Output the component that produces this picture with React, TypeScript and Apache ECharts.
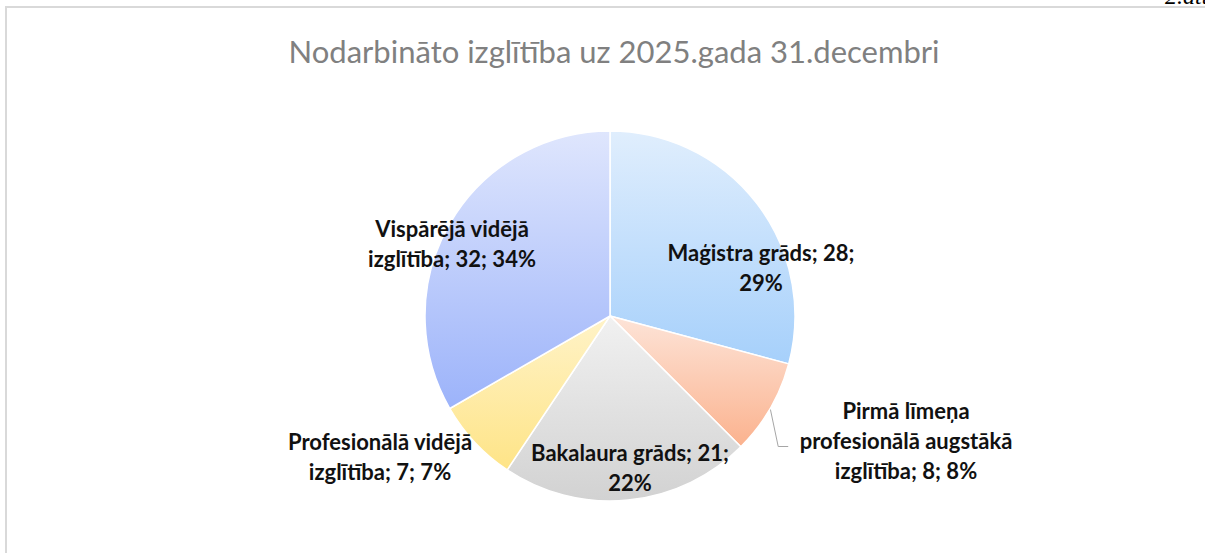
import React, { useEffect, useRef } from "react";
import * as echarts from "echarts";

const TITLE = "Nodarbināto izglītība uz 2025.gada 31.decembri";
const CORNER_TEXT = "2.attēls";
const CATEGORIES = [
  "Maģistra grāds",
  "Pirmā līmeņa profesionālā augstākā izglītība",
  "Bakalaura grāds",
  "Profesionālā vidējā izglītība",
  "Vispārējā vidējā izglītība",
];
const VALUES = [28, 8, 21, 7, 32];
const PERCENT_LABELS = ["29%", "8%", "22%", "7%", "34%"];

// layout / style (not data)
const LINE_BREAKS = [[3], [2, 4], [3], [2], [2]];
const LABEL_POS = [
  [761, 267],
  [906, 440],
  [630, 467],
  [380, 456],
  [452, 243],
];
const GRADIENTS = [
  ["#e0eefd", "#a6d0fb"],
  ["#fde4d8", "#fbb28e"],
  ["#f1f1f1", "#d2d2d2"],
  ["#fff3c8", "#fee487"],
  ["#dfe6fd", "#9cb3fa"],
];

function wrapLabel(i: number, text: string) {
  const words = text.split(" ");
  const breaks = LINE_BREAKS[i];
  const lines: string[] = [];
  let start = 0;
  for (const b of breaks) {
    lines.push(words.slice(start, b).join(" "));
    start = b;
  }
  lines.push(words.slice(start).join(" "));
  return lines.join("\n");
}

export default function App() {
  const ref = useRef<HTMLDivElement>(null);
  useEffect(() => {
    if (!ref.current) return;
    const chart = echarts.init(ref.current, null, { renderer: "svg" });
    const FONT = "Lato, 'Open Sans', sans-serif";
    const data = CATEGORIES.map((name, i) => ({
      name,
      value: VALUES[i],
      itemStyle: {
        color: new echarts.graphic.LinearGradient(0, 0, 0, 1, [
          { offset: 0, color: GRADIENTS[i][0] },
          { offset: 1, color: GRADIENTS[i][1] },
        ]),
      },
      label: i === 1 ? { position: "outside" } : { position: "inside" },
      labelLine: { show: i === 1 },
    }));
    chart.setOption({
      animation: false,
      backgroundColor: "#ffffff",
      title: {
        text: TITLE,
        left: 609,
        top: 30,
        textAlign: "center",
        textStyle: {
          fontFamily: FONT,
          fontSize: 31,
          fontWeight: "normal",
          color: "#808080",
        },
      },
      graphic: [
        {
          type: "rect",
          shape: { x: 6, y: 7, width: 1400, height: 700 },
          style: { fill: "none", stroke: "#d9d9d9", lineWidth: 2 },
          silent: true,
          z: -1,
        },
        {
          type: "text",
          right: -30,
          top: -16,
          style: {
            text: CORNER_TEXT,
            fontFamily: "'Liberation Serif', serif",
            fontStyle: "italic",
            fontSize: 24,
            fill: "#000000",
          },
        },
      ],
      series: [
        {
          type: "pie",
          center: [610, 316],
          radius: 185,
          startAngle: 90,
          clockwise: true,
          avoidLabelOverlap: false,
          itemStyle: { borderColor: "#ffffff", borderWidth: 1.5 },
          label: {
            show: true,
            fontFamily: FONT,
            fontSize: 22,
            fontWeight: "bold",
            color: "#111111",
            lineHeight: 30,
            align: "center",
            formatter: (p: any) =>
              wrapLabel(
                p.dataIndex,
                `${p.name}; ${p.value}; ${PERCENT_LABELS[p.dataIndex]}`
              ),
          },
          labelLine: {
            lineStyle: { color: "#a6a6a6", width: 1 },
            length: 10,
            length2: 10,
          },
          labelLayout: (params: any) => {
            const i = params.dataIndex;
            const out: any = {
              x: LABEL_POS[i][0],
              y: LABEL_POS[i][1],
              align: "center",
              verticalAlign: "middle",
            };
            if (params.labelLinePoints && params.labelLinePoints.length) {
              const p0 = params.labelLinePoints[0];
              out.labelLinePoints = [
                p0,
                [p0[0] + 8, p0[1] + 38],
                [p0[0] + 18, p0[1] + 38],
              ];
            }
            return out;
          },
          data,
        },
      ],
    });
    return () => chart.dispose();
  }, []);
  return (
    <div
      ref={ref}
      style={{ position: "absolute", left: 0, top: 0, width: 1205, height: 553 }}
    />
  );
}
